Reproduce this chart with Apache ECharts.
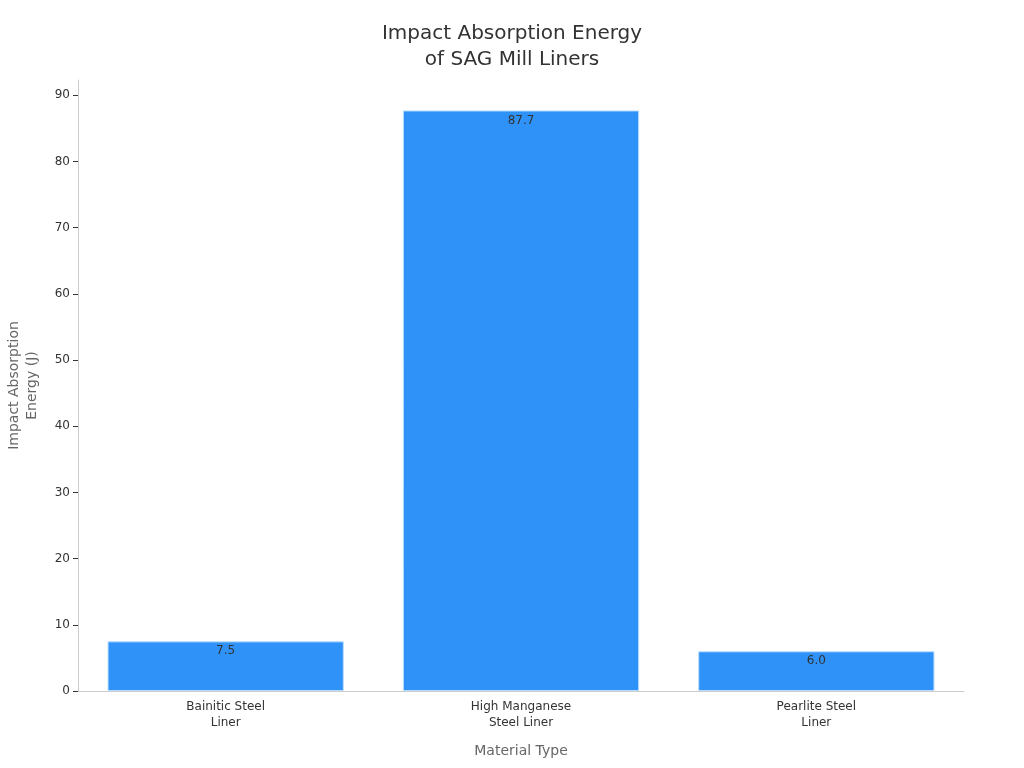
<!DOCTYPE html>
<html><head><meta charset="utf-8">
<script src="https://cdn.jsdelivr.net/npm/echarts@6/dist/echarts.min.js"></script>
<style>html,body{margin:0;padding:0;background:#fff}#c{width:1024px;height:768px}</style>
</head><body><div id="c"></div>
<script>
const categories = ['Bainitic Steel\nLiner', 'High Manganese\nSteel Liner', 'Pearlite Steel\nLiner'];
const energyValues = [7.5, 87.7, 6.0];
const yTicks = [0, 10, 20, 30, 40, 50, 60, 70, 80, 90];

const chart = echarts.init(document.getElementById('c'));
const font = 'DejaVu Sans';
chart.setOption({
  animation: false,
  textStyle: { fontFamily: font },
  title: {
    text: 'Impact Absorption Energy\nof SAG Mill Liners',
    left: 'center', top: 16,
    textStyle: { fontFamily: font, fontSize: 20, fontWeight: 'normal', color: '#333', lineHeight: 26 }
  },
  grid: { left: 78, right: 60, top: 80, bottom: 77, containLabel: false, outerBoundsMode: 'none' },
  xAxis: {
    type: 'category', data: categories,
    name: 'Material Type', nameLocation: 'middle', nameGap: 53,
    nameTextStyle: { fontFamily: font, fontSize: 14, color: '#666' },
    axisLine: { lineStyle: { color: '#ccc' } },
    axisTick: { alignWithLabel: true, lineStyle: { color: '#333' } },
    axisLabel: { fontFamily: font, fontSize: 12, color: '#333', lineHeight: 16, interval: 0 }
  },
  yAxis: {
    type: 'value', min: 0, max: 92.3, interval: 10,
    name: 'Impact Absorption\nEnergy (J)', nameLocation: 'middle', nameGap: 37,
    nameTextStyle: { fontFamily: font, fontSize: 14, color: '#666', lineHeight: 18 },
    axisLine: { show: true, lineStyle: { color: '#ccc' } },
    axisTick: { show: true, customValues: yTicks, lineStyle: { color: '#333' } },
    axisLabel: { fontFamily: font, fontSize: 12, color: '#333', customValues: yTicks },
    splitLine: { show: false }
  },
  series: [{
    type: 'bar', data: energyValues, barCategoryGap: '20%',
    itemStyle: { color: '#2f92f8', borderColor: '#b9dcff', borderWidth: 1 },
    label: {
      show: true, position: 'insideTop', distance: 4,
      fontFamily: font, fontSize: 12, color: '#333',
      formatter: p => p.value.toFixed(1)
    }
  }]
});
</script></body></html>
